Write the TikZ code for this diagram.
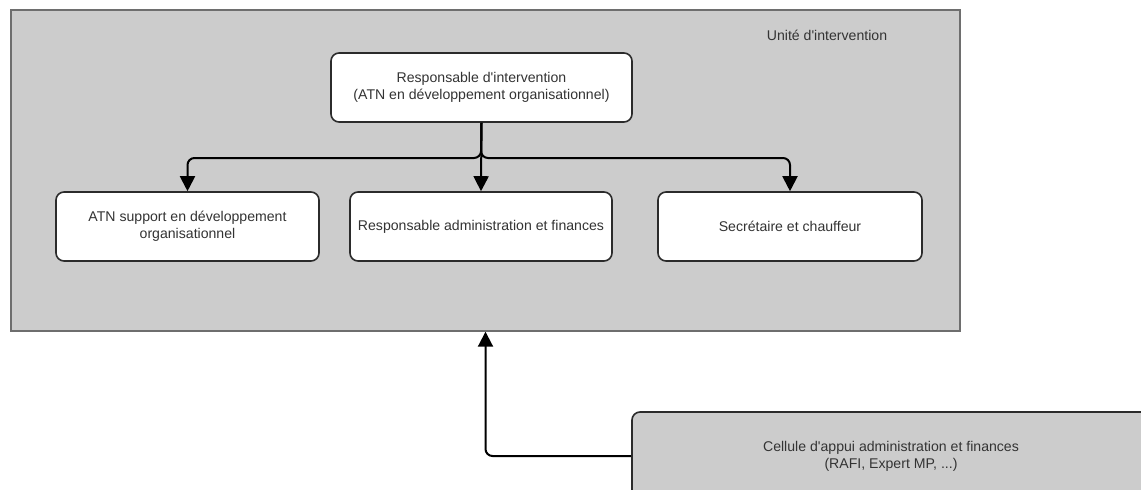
\documentclass[tikz,border=0pt]{standalone}
\usepackage{fontspec}
\setmainfont{Liberation Sans}[Ligatures=TeXOff]
\usetikzlibrary{arrows.meta}
\definecolor{boxgray}{HTML}{CCCCCC}
\definecolor{txtgray}{HTML}{333333}
\definecolor{edgegray}{HTML}{2B2B2B}
\definecolor{unitborder}{HTML}{6E6E6E}
\tikzset{
  base/.style={font=\fontsize{14.1}{16.8}\selectfont, text=txtgray, align=center, inner sep=0pt},
  rolebox/.style={base, draw=edgegray, line width=1.6pt, fill=white, rounded corners=8pt},
  cellbox/.style={base, draw=edgegray, line width=1.6pt, fill=boxgray, rounded corners=8pt},
  unitbox/.style={draw=unitborder, line width=1.4pt, fill=boxgray, inner sep=0pt},
  link/.style={draw=black, line width=2pt, rounded corners=7pt, -{Triangle[length=15pt,width=15pt]}},
}
\begin{document}
\begin{tikzpicture}[x=1pt,y=-1pt]
\useasboundingbox (0,0) rectangle (1141,490);
\clip (0,0) rectangle (1141,490);
\fill[white] (0,0) rectangle (1141,490);
% unit container
\node[unitbox, minimum width=949pt, minimum height=321pt] (unit) at (485.5,170.5) {};
\node[base, anchor=center] (unitlabel) at (827,35) {Unité d'intervention};
% parent
\node[rolebox, minimum width=301pt, minimum height=69pt] (parent) at (481.5,87.5)
  {Responsable d'intervention\\(ATN en développement organisationnel)};
% children
\node[rolebox, minimum width=263pt, minimum height=69pt] (c1) at (187.5,226.5)
  {ATN support en développement\\organisationnel};
\node[rolebox, minimum width=262pt, minimum height=69pt] (c2) at (481,226.5)
  {Responsable administration et finances};
\node[rolebox, minimum width=264pt, minimum height=69pt] (c3) at (790,226.5)
  {Secrétaire et chauffeur};
% support cell
\node[cellbox, minimum width=518pt, minimum height=88pt] (cell) at (891,456)
  {Cellule d'appui administration et finances\\(RAFI, Expert MP, ...)};
% connectors
\coordinate (bus) at (481,158);
\path[link] (parent.south) -- (bus) -| (c1.north);
\path[link] (parent.south) -- (bus) -| (c3.north);
\path[link] (parent.south) -- (c2.north);
\path[link] (cell.west) -| (unit.south);
\end{tikzpicture}
\end{document}
